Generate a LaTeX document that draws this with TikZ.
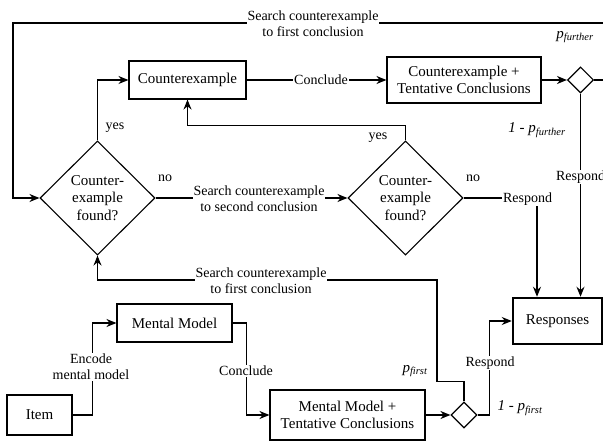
\documentclass[tikz,border=0pt]{standalone}
\usepackage{fontspec}
\setmainfont{Liberation Serif}
\usetikzlibrary{shapes.geometric,arrows.meta,calc}
\begin{document}
\begin{tikzpicture}[x=1pt,y=-1pt,
  every node/.style={font=\fontsize{15}{17.5}\selectfont},
  box/.style={draw, line width=1.1pt, align=center, inner sep=0pt},
  thickbox/.style={box, line width=2.5pt},
  dec/.style={diamond, draw, line width=1.1pt, align=center, inner sep=0pt, minimum width=115pt, minimum height=114pt},
  sdec/.style={diamond, draw, line width=1.1pt, inner sep=0pt, minimum width=26pt, minimum height=26pt},
  arr/.style={line width=1.1pt, -{Stealth[length=10pt,width=8pt]}},
  tarr/.style={line width=2.2pt, -{Stealth[length=10pt,width=8pt]}},
  lbl/.style={fill=white, inner sep=1pt, align=center, font=\fontsize{14}{16}\selectfont},
  txt/.style={inner sep=0pt, align=center, font=\fontsize{14}{16}\selectfont},
  ptxt/.style={inner sep=0pt, font=\fontsize{15}{17}\selectfont\itshape}
]
\useasboundingbox (0,0) rectangle (603,441);
% nodes
\node[thickbox, minimum width=65pt, minimum height=40pt] (item) at (39.5,415) {Item};
\node[box, minimum width=115pt, minimum height=38pt] (mm) at (174.5,323) {Mental Model};
\node[box, minimum width=155pt, minimum height=50pt] (mmt) at (347.5,415) {Mental Model +\\Tentative Conclusions};
\node[sdec] (sd) at (464,415) {};
\node[thickbox, minimum width=89pt, minimum height=46pt] (resp) at (557.5,321) {Responses};
\node[box, minimum width=117pt, minimum height=38pt] (ce) at (187.5,80) {Counterexample};
\node[box, minimum width=154pt, minimum height=46pt] (cet) at (464,80) {Counterexample +\\Tentative Conclusions};
\node[sdec] (cd) at (580.5,80) {};
\node[dec] (d1) at (97.5,198) {Counter-\\example\\found?};
\node[dec] (d2) at (405.5,198) {Counter-\\example\\found?};
% connectors
\draw[arr] (item.east) -- ++(19,0) |- (mm.west);
\draw[arr] (mm.east) -- ++(14,0) |- (mmt.west);
\draw[tarr] (mmt.east) -- (sd.west);
\draw[arr] (sd.east) -- ++(12,0) |- (resp.west);
\draw[arr] (sd.north) -- ++(0,-20) -| (437,280) -| (d1.south);
\draw[arr] (d1.east) -- (d2.west);
\draw[arr] (d2.east) -| ([xshift=-20.5pt]resp.north);
\draw[arr] (cd.south) -- (cd.south |- resp.north);
\draw[arr] (d2.north) -- ++(0,-15) -| (ce.south);
\draw[arr] (d1.north) |- (ce.west);
\draw[arr] (ce.east) -- (cet.west);
\draw[tarr] (cet.east) -- (cd.west);
\draw[arr] (cd.east) -- ++(30,0) |- (13,23) |- (d1.west);
% labels
\node[lbl] at (313,24) {Search counterexample\\to first conclusion};
\node[lbl] at (321,80) {Conclude};
\node[lbl] at (259,199) {Search counterexample\\to second conclusion};
\node[lbl] at (261,281) {Search counterexample\\to first conclusion};
\node[lbl] at (91,367) {Encode\\mental model};
\node[lbl] at (246,371) {Conclude};
\node[lbl] at (490,363) {Respond};
\node[lbl] at (527.5,199) {Respond};
\node[lbl] at (580.5,177) {Respond};
\node[txt] at (115,128) {yes};
\node[txt] at (378,138) {yes};
\node[txt] at (165,178) {no};
\node[txt] at (473,178) {no};
\node[ptxt] at (575,37) {p\textsubscript{further}};
\node[ptxt] at (537,130) {1 - p\textsubscript{further}};
\node[ptxt] at (415,371) {p\textsubscript{first}};
\node[ptxt] at (520,408) {1 - p\textsubscript{first}};
\end{tikzpicture}
\end{document}
